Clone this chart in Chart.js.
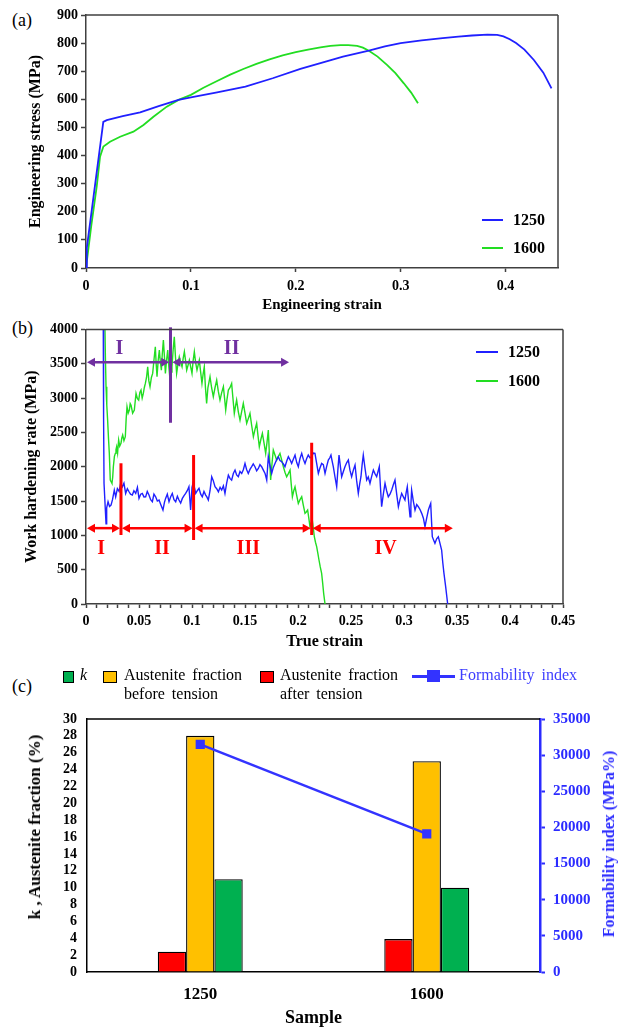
<!DOCTYPE html>
<html><head><meta charset="utf-8">
<script src="https://cdn.jsdelivr.net/npm/chart.js@4.4.1/dist/chart.umd.min.js"></script>
<style>
body{margin:0;width:623px;height:1027px;position:relative;background:#fff;overflow:hidden;font-family:"Liberation Serif",serif;color:#000;}
.box{position:absolute;left:0;width:623px;}
.plab{position:absolute;font-size:18px;line-height:18px;}
.lg{position:absolute;font-weight:bold;font-size:16px;line-height:16px;}
.sw{position:absolute;height:2px;}
.cl{position:absolute;font-size:16px;line-height:19px;word-spacing:3px;white-space:nowrap;}
.bx{position:absolute;border:1.3px solid #000;box-sizing:border-box;}
.vt{position:absolute;transform:translate(-50%,-50%) rotate(-90deg);white-space:nowrap;font-weight:bold;}
</style></head><body>
<div class="plab" style="left:12px;top:11px">(a)</div>
<div class="plab" style="left:12px;top:319px">(b)</div>
<div class="plab" style="left:12px;top:677px">(c)</div>

<div class="box" style="top:0;height:318px"><canvas id="ca"></canvas></div>
<div class="box" style="top:318px;height:332px"><canvas id="cb"></canvas></div>
<div class="box" style="top:650px;height:377px"><canvas id="cc"></canvas></div>

<!-- legend (a) -->
<div class="sw" style="left:482px;top:219px;width:21px;background:#2020ff"></div>
<div class="lg" style="left:513px;top:212px">1250</div>
<div class="sw" style="left:482px;top:247px;width:21px;background:#22dd22"></div>
<div class="lg" style="left:513px;top:240px">1600</div>
<!-- legend (b) -->
<div class="sw" style="left:476px;top:351px;width:22px;background:#2020ff"></div>
<div class="lg" style="left:508px;top:344px">1250</div>
<div class="sw" style="left:476px;top:380px;width:22px;background:#22dd22"></div>
<div class="lg" style="left:508px;top:373px">1600</div>
<!-- legend (c) -->
<div class="bx" style="left:63px;top:671px;width:11px;height:12px;background:#00b050"></div>
<div class="cl" style="left:80px;top:665px;font-style:italic">k</div>
<div class="bx" style="left:103px;top:671px;width:14px;height:12px;background:#ffc000"></div>
<div class="cl" style="left:124px;top:665px">Austenite fraction<br>before tension</div>
<div class="bx" style="left:260px;top:671px;width:14px;height:12px;background:#ff0000"></div>
<div class="cl" style="left:280px;top:665px">Austenite fraction<br>after tension</div>
<div style="position:absolute;left:412px;top:675px;width:43px;height:3px;background:#3333ff"></div>
<div style="position:absolute;left:427px;top:670px;width:13px;height:12px;background:#3333ff"></div>
<div class="cl" style="left:459px;top:665px;color:#3d3dff">Formability index</div>
<!-- axis titles (c) -->
<div class="vt" style="left:35px;top:827px;font-size:17px">k , Austenite fraction (%)</div>
<div class="vt" style="left:609px;top:844px;font-size:16px;color:#2b2bff">Formability index (MPa%)</div>

<script>
// ---------- DATA ----------
// (a) engineering stress-strain [strain, MPa]
const strainStress1250 = [[0,0],[0.0008,72],[0.0165,520],[0.0198,526],[0.035,540],[0.0516,554],[0.07,577],[0.0882,598],[0.1,607],[0.125,625],[0.152,645],[0.178,675],[0.2044,708],[0.2235,729],[0.245,752],[0.2697,773],[0.285,788],[0.3,800],[0.32,810],[0.34,818],[0.355,823],[0.368,827],[0.3827,830],[0.392,829],[0.398,824],[0.404,814],[0.41,800],[0.418,777],[0.427,740],[0.436,695],[0.4438,639]];
const strainStress1600 = [[0,0],[0.005,150],[0.0102,289],[0.0134,396],[0.0166,432],[0.0229,449],[0.0325,467],[0.0452,485],[0.0548,509],[0.0643,538],[0.077,574],[0.0882,598],[0.1,616],[0.112,641],[0.125,665],[0.1375,688],[0.15,708],[0.1625,726],[0.175,742],[0.1875,756],[0.2,768],[0.2117,777],[0.2235,785],[0.233,790],[0.2426,793],[0.25,793],[0.2585,790],[0.264,784],[0.2697,773],[0.278,752],[0.2872,722],[0.295,693],[0.303,657],[0.31,624],[0.3165,586]];
const legendSeries = ['1250','1600'];

// (b) work hardening rate [true strain, MPa]
const whr1250 = [[0.0163,4000],[0.0166,2700],[0.0170,1760],[0.0189,1170],[0.0195,1400],[0.0208,1490],[0.0222,1420],[0.0236,1441],[0.0250,1520],[0.0267,1660],[0.0280,1562],[0.0296,1680],[0.0312,1640],[0.0327,1757],[0.0343,1708],[0.0358,1760],[0.0374,1611],[0.0390,1680],[0.0406,1635],[0.0420,1600],[0.0437,1587],[0.0452,1650],[0.0469,1611],[0.0485,1700],[0.0500,1538],[0.0516,1600],[0.0531,1611],[0.0547,1560],[0.0563,1562],[0.0578,1640],[0.0594,1587],[0.0610,1520],[0.0626,1490],[0.0641,1600],[0.0657,1562],[0.0673,1500],[0.0689,1514],[0.0705,1450],[0.0726,1369],[0.0740,1480],[0.0751,1538],[0.0767,1600],[0.0783,1490],[0.0798,1560],[0.0814,1611],[0.0830,1520],[0.0846,1490],[0.0862,1570],[0.0877,1514],[0.0893,1470],[0.0909,1538],[0.0925,1580],[0.0940,1611],[0.0955,1650],[0.0971,1708],[0.0987,1369],[0.1000,1700],[0.1013,1781],[0.1024,1690],[0.1035,1611],[0.1050,1650],[0.1066,1684],[0.1082,1600],[0.1097,1562],[0.1113,1640],[0.1129,1587],[0.1140,1560],[0.1154,1514],[0.1170,1650],[0.1186,1854],[0.1200,1800],[0.1217,1708],[0.1233,1680],[0.1249,1635],[0.1265,1700],[0.1280,1660],[0.1296,1720],[0.1311,1611],[0.1327,1760],[0.1343,1878],[0.1358,1830],[0.1374,1805],[0.1390,1900],[0.1406,1951],[0.1421,1880],[0.1437,1854],[0.1453,1930],[0.1469,1902],[0.1485,1960],[0.1500,2048],[0.1515,1960],[0.1531,1902],[0.1547,1960],[0.1563,2000],[0.1578,2040],[0.1594,2000],[0.1610,1940],[0.1626,1975],[0.1641,2030],[0.1657,2000],[0.1673,1950],[0.1689,1902],[0.1705,1806],[0.1720,2145],[0.1736,2010],[0.1752,1902],[0.1767,1990],[0.1783,2048],[0.1798,2100],[0.1814,2145],[0.1830,2090],[0.1846,2073],[0.1862,2040],[0.1877,2000],[0.1893,2080],[0.1909,2145],[0.1925,2100],[0.1940,2048],[0.1956,2110],[0.1972,2170],[0.1988,2060],[0.2003,2000],[0.2019,2120],[0.2035,2194],[0.2050,2110],[0.2066,2048],[0.2082,2120],[0.2097,2170],[0.2113,2130],[0.2129,2145],[0.2145,2200],[0.2160,2194],[0.2176,2050],[0.2192,1902],[0.2207,1980],[0.2223,2048],[0.2239,2030],[0.2255,1902],[0.2270,2000],[0.2286,2097],[0.2300,2130],[0.2311,2170],[0.2322,2080],[0.2333,2000],[0.2349,1850],[0.2365,1708],[0.2376,1950],[0.2387,2170],[0.2400,2000],[0.2412,1854],[0.2428,1930],[0.2443,2000],[0.2460,2060],[0.2475,2097],[0.2490,1950],[0.2506,1854],[0.2522,1950],[0.2538,2024],[0.2553,1800],[0.2569,1611],[0.2582,1750],[0.2594,1854],[0.2605,2030],[0.2616,2170],[0.2632,1980],[0.2648,1805],[0.2663,1850],[0.2679,1757],[0.2695,1860],[0.2711,1951],[0.2726,1900],[0.2742,1854],[0.2755,1930],[0.2767,2000],[0.2778,1700],[0.2789,1417],[0.2805,1600],[0.2821,1757],[0.2836,1650],[0.2852,1562],[0.2868,1600],[0.2884,1660],[0.2900,1740],[0.2915,1805],[0.2931,1600],[0.2947,1417],[0.2962,1520],[0.2978,1611],[0.2994,1560],[0.3009,1514],[0.3020,1620],[0.3031,1708],[0.3044,1480],[0.3057,1271],[0.3065,1450],[0.3072,1660],[0.3088,1500],[0.3104,1369],[0.3120,1450],[0.3135,1417],[0.3150,1380],[0.3167,1320],[0.3183,1250],[0.3198,1126],[0.3214,1250],[0.3230,1369],[0.3241,1420],[0.3252,1465],[0.3260,1200],[0.3267,980],[0.3280,930],[0.3292,883],[0.3308,950],[0.3324,980],[0.3340,880],[0.3355,786],[0.3366,600],[0.3377,447],[0.3393,252],[0.3412,0]];
const whr1600 = [[0.0179,4000],[0.0183,3600],[0.0189,3164],[0.0196,2900],[0.0204,2679],[0.0212,2420],[0.0220,2194],[0.0229,1805],[0.0237,1780],[0.0245,1757],[0.0252,1850],[0.0258,1999],[0.0268,2150],[0.0277,2194],[0.0283,2250],[0.0289,2290],[0.0298,2200],[0.0308,2388],[0.0318,2300],[0.0330,2340],[0.0338,2420],[0.0346,2461],[0.0358,2380],[0.0371,2437],[0.0379,2700],[0.0387,2873],[0.0398,2780],[0.0409,2825],[0.0417,2920],[0.0425,2897],[0.0440,2780],[0.0456,2825],[0.0464,2950],[0.0472,3068],[0.0485,2990],[0.0497,2970],[0.0508,3080],[0.0519,3116],[0.0530,3000],[0.0541,3068],[0.0550,3150],[0.0560,3213],[0.0571,3300],[0.0582,3455],[0.0593,3250],[0.0604,3165],[0.0617,3300],[0.0629,3359],[0.0641,3550],[0.0654,3746],[0.0662,3500],[0.0670,3310],[0.0681,3550],[0.0692,3698],[0.0700,3550],[0.0711,3407],[0.0720,3650],[0.0730,3844],[0.0740,3600],[0.0749,3359],[0.0760,3550],[0.0771,3698],[0.0782,3450],[0.0793,3262],[0.0802,3380],[0.0811,3455],[0.0822,3700],[0.0833,3892],[0.0844,3600],[0.0855,3359],[0.0868,3500],[0.0880,3601],[0.0893,3520],[0.0906,3455],[0.0917,3580],[0.0928,3674],[0.0939,3550],[0.0950,3407],[0.0963,3480],[0.0975,3553],[0.0988,3450],[0.1000,3359],[0.1011,3550],[0.1022,3674],[0.1034,3520],[0.1047,3407],[0.1058,3480],[0.1069,3553],[0.1080,3400],[0.1094,3213],[0.1105,3350],[0.1116,3455],[0.1127,3150],[0.1138,2922],[0.1150,3150],[0.1170,3310],[0.1185,3150],[0.1201,3019],[0.1217,3150],[0.1233,3262],[0.1248,3100],[0.1264,2970],[0.1280,3080],[0.1296,3165],[0.1307,3000],[0.1318,2825],[0.1330,2980],[0.1343,3116],[0.1358,3150],[0.1374,3213],[0.1386,3000],[0.1399,2776],[0.1410,2880],[0.1421,2970],[0.1437,2800],[0.1453,2679],[0.1468,2800],[0.1484,2922],[0.1500,2780],[0.1516,2631],[0.1531,2700],[0.1547,2776],[0.1563,2600],[0.1579,2436],[0.1594,2540],[0.1610,2631],[0.1622,2460],[0.1635,2290],[0.1650,2400],[0.1664,2485],[0.1680,2340],[0.1695,2194],[0.1708,2360],[0.1720,2534],[0.1731,2150],[0.1742,1806],[0.1755,2050],[0.1767,2243],[0.1783,2170],[0.1799,2097],[0.1815,2150],[0.1830,2194],[0.1846,2100],[0.1862,2000],[0.1877,1920],[0.1893,1854],[0.1909,1900],[0.1925,1951],[0.1936,1750],[0.1947,1562],[0.1960,1650],[0.1972,1708],[0.1988,1580],[0.2003,1465],[0.2019,1520],[0.2035,1562],[0.2050,1440],[0.2066,1320],[0.2078,1340],[0.2091,1369],[0.2102,1250],[0.2113,1126],[0.2124,1180],[0.2135,1223],[0.2145,1100],[0.2154,980],[0.2165,900],[0.2176,835],[0.2187,740],[0.2198,641],[0.2210,540],[0.2223,447],[0.2233,300],[0.2242,155],[0.2255,0]];
// (b) stage annotations, in data units
const purpleArrows = [[0, 0.0795, 3520], [0.0805, 0.1925, 3520]];       // [x1, x2, y]
const purpleDivider = [[0.0797, 2640, 4030]];                           // [x, y1, y2]
const purpleStages = [['I', 0.0315, 3710], ['II', 0.1374, 3710]];       // [text, x, y]
const redArrows = [[0, 0.033, 1105], [0.033, 0.1015, 1105], [0.1015, 0.2129, 1105], [0.2129, 0.347, 1105]];
const redDividers = [[0.033, 1005, 2050], [0.1015, 932, 2170], [0.2129, 1005, 2349]];
const redStages = [['I', 0.0142, 800], ['II', 0.0717, 800], ['III', 0.1531, 800], ['IV', 0.2827, 800]];

// (c) bar chart
const samples = ['1250', '1600'];
const austeniteAfter = [2.4, 3.9];
const austeniteBefore = [28, 25];
const kValues = [11, 10];
const formabilityIndex = [31500, 19100];

// ---------- CHARTS ----------
Chart.defaults.font.family = '"Liberation Serif", "Times New Roman", serif';
Chart.defaults.color = '#000';
Chart.defaults.animation = false;

const FRAME = '#404040';
const plain = v => String(Math.round(v * 1000) / 1000);
const framePlugin = {
  id: 'frame',
  afterDraw(chart, args, opts) {
    const {ctx, chartArea: a} = chart;
    ctx.save();
    ctx.strokeStyle = opts.color || FRAME;
    ctx.lineWidth = opts.width || 1.5;
    ctx.beginPath();
    (opts.sides || []).forEach(s => {
      if (s === 'top') { ctx.moveTo(a.left, a.top); ctx.lineTo(a.right, a.top); }
      if (s === 'right') { ctx.moveTo(a.right, a.top); ctx.lineTo(a.right, a.bottom); }
    });
    ctx.stroke();
    ctx.restore();
  }
};

function arrowHead(ctx, x, y, dir, len, half) {
  ctx.beginPath();
  ctx.moveTo(x, y);
  ctx.lineTo(x - dir * len, y - half);
  ctx.lineTo(x - dir * len, y + half);
  ctx.closePath();
  ctx.fill();
}
const stagePlugin = {
  id: 'stages',
  afterDatasetsDraw(chart) {
    const {ctx, scales: {x, y}} = chart;
    const groups = [
      {arrows: purpleArrows, dividers: purpleDivider, stages: purpleStages, color: '#7030a0'},
      {arrows: redArrows, dividers: redDividers, stages: redStages, color: '#ff0000'}
    ];
    ctx.save();
    groups.forEach(g => {
      ctx.strokeStyle = g.color; ctx.fillStyle = g.color;
      g.dividers.forEach(([xv, y1, y2]) => {
        ctx.lineWidth = 3;
        ctx.beginPath();
        ctx.moveTo(x.getPixelForValue(xv), y.getPixelForValue(y1));
        ctx.lineTo(x.getPixelForValue(xv), y.getPixelForValue(y2));
        ctx.stroke();
      });
      g.arrows.forEach(([x1, x2, yv]) => {
        const p1 = x.getPixelForValue(x1) + 1, p2 = x.getPixelForValue(x2) - 1, py = y.getPixelForValue(yv);
        ctx.lineWidth = 2.5;
        ctx.beginPath(); ctx.moveTo(p1 + 5, py); ctx.lineTo(p2 - 5, py); ctx.stroke();
        arrowHead(ctx, p1, py, -1, 8, 4.5);
        arrowHead(ctx, p2, py, 1, 8, 4.5);
      });
      ctx.font = 'bold 20px "Liberation Serif", serif';
      ctx.textAlign = 'center'; ctx.textBaseline = 'middle';
      g.stages.forEach(([t, xv, yv]) => ctx.fillText(t, x.getPixelForValue(xv), y.getPixelForValue(yv)));
    });
    ctx.restore();
  }
};

const pts = arr => arr.map(([x, y]) => ({x, y}));
const tickFont = {weight: 'bold', size: 14};
const titleFont = {weight: 'bold', size: 16};

// ---- (a) ----
new Chart(document.getElementById('ca'), {
  type: 'line',
  data: {datasets: [
    {label: legendSeries[0], data: pts(strainStress1250), borderColor: '#2020ff', borderWidth: 1.8, pointRadius: 0, tension: 0},
    {label: legendSeries[1], data: pts(strainStress1600), borderColor: '#22dd22', borderWidth: 1.8, pointRadius: 0, tension: 0}
  ]},
  options: {
    responsive: true, maintainAspectRatio: false,
    layout: {padding: {top: 15, right: 65, left: 0, bottom: 0}},
    plugins: {legend: {display: false}, tooltip: {enabled: false}, frame: {sides: ['top', 'right']}},
    scales: {
      x: {type: 'linear', min: 0, max: 0.45, afterFit: s => { s.height = 50; },
        ticks: {stepSize: 0.1, includeBounds: false, font: tickFont, padding: 6, maxRotation: 0, callback: plain},
        grid: {drawOnChartArea: false, tickLength: 4, color: FRAME, tickWidth: 1.5},
        border: {color: FRAME, width: 1.5},
        title: {display: true, text: 'Engineering strain', font: {weight: 'bold', size: 15, lineHeight: 1}, padding: {top: 0, bottom: 5}}},
      y: {min: 0, max: 900, afterFit: s => { s.width = 86; },
        ticks: {stepSize: 100, font: tickFont, padding: 3, callback: plain},
        grid: {drawOnChartArea: false, tickLength: 5, color: FRAME, tickWidth: 1.5},
        border: {color: FRAME, width: 1.5},
        title: {display: true, text: 'Engineering stress (MPa)', font: titleFont, padding: {top: 26, bottom: 0}}}
    }
  },
  plugins: [framePlugin]
});

// ---- (b) ----
new Chart(document.getElementById('cb'), {
  type: 'line',
  data: {datasets: [
    {label: legendSeries[0], data: pts(whr1250), borderColor: '#2020ff', borderWidth: 1.4, pointRadius: 0},
    {label: legendSeries[1], data: pts(whr1600), borderColor: '#22dd22', borderWidth: 1.4, pointRadius: 0}
  ]},
  options: {
    responsive: true, maintainAspectRatio: false,
    layout: {padding: {top: 11, right: 60, left: 0, bottom: 0}},
    plugins: {legend: {display: false}, tooltip: {enabled: false}, frame: {sides: ['top', 'right']}},
    scales: {
      x: {type: 'linear', min: 0, max: 0.45, afterFit: s => { s.height = 46; },
        ticks: {stepSize: 0.01, autoSkip: false, font: tickFont, padding: 5, maxRotation: 0,
          callback: v => { const r = Math.round(v * 100); return r % 5 === 0 ? String(r / 100) : ''; }},
        grid: {drawOnChartArea: false, tickLength: 4, color: FRAME, tickWidth: 1.5},
        border: {color: FRAME, width: 1.5},
        title: {display: true, text: 'True strain', font: {weight: 'bold', size: 16, lineHeight: 1}, padding: {top: 0, bottom: 0}}},
      y: {min: 0, max: 4000, afterFit: s => { s.width = 86; },
        ticks: {stepSize: 500, font: tickFont, padding: 3, callback: plain},
        grid: {drawOnChartArea: false, tickLength: 5, color: FRAME, tickWidth: 1.5},
        border: {color: FRAME, width: 1.5},
        title: {display: true, text: 'Work hardening rate (MPa)', font: titleFont, padding: {top: 22, bottom: 0}}}
    }
  },
  plugins: [framePlugin, stagePlugin]
});

// ---- (c) ----
const barCommon = {borderColor: '#000', borderWidth: 1.3, barPercentage: 1, categoryPercentage: 0.375, order: 1, yAxisID: 'y'};
new Chart(document.getElementById('cc'), {
  type: 'bar',
  data: {labels: samples, datasets: [
    Object.assign({label: 'Austenite fraction after tension', data: austeniteAfter, backgroundColor: '#ff0000'}, barCommon),
    Object.assign({label: 'Austenite fraction before tension', data: austeniteBefore, backgroundColor: '#ffc000'}, barCommon),
    Object.assign({label: 'k', data: kValues, backgroundColor: '#00b050'}, barCommon),
    {type: 'line', label: 'Formability index', data: formabilityIndex, yAxisID: 'y2', order: 0,
      borderColor: '#3333ff', borderWidth: 2.5, pointStyle: 'rect', pointRadius: 6.5, pointBackgroundColor: '#3333ff', pointBorderWidth: 0}
  ]},
  options: {
    responsive: true, maintainAspectRatio: false,
    layout: {padding: {top: 69, right: 0, left: 0, bottom: 0}},
    plugins: {legend: {display: false}, tooltip: {enabled: false}, frame: {sides: ['top'], color: '#000', width: 1.5}},
    scales: {
      x: {afterFit: s => { s.height = 55; },
        ticks: {font: {weight: 'bold', size: 17}, padding: 12},
        grid: {display: false, drawTicks: false},
        border: {color: '#000', width: 1.5},
        title: {display: true, text: 'Sample', font: {weight: 'bold', size: 18, lineHeight: 1}, padding: {top: 0, bottom: 0}}},
      y: {min: 0, max: 30, afterFit: s => { s.width = 87; },
        ticks: {stepSize: 2, autoSkip: false, font: {weight: 'bold', size: 14, lineHeight: 1}, padding: 10, callback: plain},
        grid: {drawOnChartArea: false, drawTicks: false},
        border: {color: '#000', width: 1.5},
        title: {display: false}},
      y2: {position: 'right', min: 0, max: 35000, afterFit: s => { s.width = 83; },
        ticks: {stepSize: 5000, color: '#2b2bff', font: {weight: 'bold', size: 15}, padding: 8, callback: plain},
        grid: {drawOnChartArea: false, tickLength: 5, color: '#2b2bff', tickWidth: 2},
        border: {color: '#2b2bff', width: 2.5}}
    }
  },
  plugins: [framePlugin]
});
</script>
</body></html>
